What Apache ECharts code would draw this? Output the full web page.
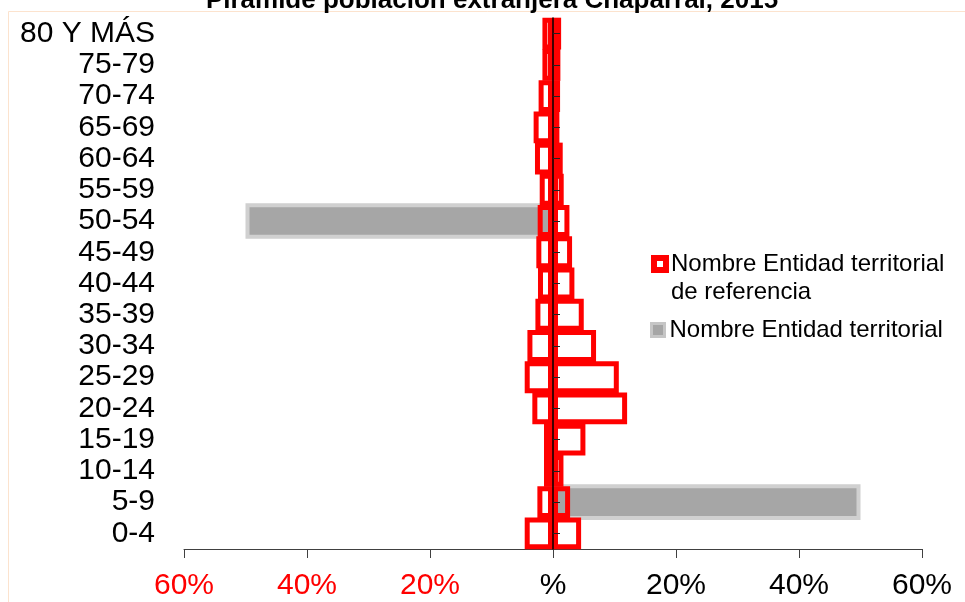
<!DOCTYPE html>
<html>
<head>
<meta charset="utf-8">
<script src="https://cdn.jsdelivr.net/npm/echarts@6/dist/echarts.min.js"></script>
<style>
html,body{margin:0;padding:0;background:#fff;}
#chart{width:965px;height:602px;}
</style>
</head>
<body>
<div id="chart"></div>
<script>
var titleText = 'Pirámide población extranjera Chaparral, 2015';
var categories = ['0-4','5-9','10-14','15-19','20-24','25-29','30-34','35-39','40-44','45-49','50-54','55-59','60-64','65-69','70-74','75-79','80 Y MÁS'];
var refName = 'Nombre Entidad territorial de referencia';
var entName = 'Nombre Entidad territorial';
// percentages (men negative, women positive)
var refMen   = [-4.6,-2.54,-1.46,-1.46,-3.36,-4.6,-4.16,-2.86,-2.44,-2.71,-2.49,-2.16,-2.93,-3.15,-2.34,-1.72,-1.72];
var refWomen = [4.57,2.78,1.7,5.27,12.05,10.7,7.0,5.0,3.48,3.1,2.67,1.74,1.58,1.04,1.15,1.2,1.32];
var entMen   = [0,0,0,0,0,0,0,0,0,0,-50,0,0,0,0,0,0];
var entWomen = [0,50,0,0,0,0,0,0,0,0,0,0,0,0,0,0,0];

function nz(a){ return a.map(function(v){ return v === 0 ? null : v; }); }

var FONT = 'Liberation Sans, Arial, sans-serif';
var chart = echarts.init(document.getElementById('chart'), null, {renderer:'canvas'});

var graySeries = function(data){
  return {
    name: entName, type: 'bar', data: nz(data), yAxisIndex: 0,
    barWidth: '114%', barGap: '-100%',
    itemStyle: {color: '#A6A6A6', borderColor: '#D0D0D0', borderWidth: 4},
    emphasis: {disabled: true}, z: 2
  };
};
var redSeries = function(data){
  return {
    name: refName, type: 'bar', data: data, yAxisIndex: 1,
    barWidth: '102%', barGap: '-100%',
    itemStyle: {color: 'rgba(255,255,255,0)', borderColor: '#FF0000', borderWidth: 5},
    emphasis: {disabled: true}, z: 3
  };
};

chart.setOption({
  backgroundColor: '#ffffff',
  animation: false,
  textStyle: {fontFamily: FONT},
  title: {
    text: titleText, left: 492, textAlign: 'center', top: -12, padding: 0,
    textStyle: {fontFamily: FONT, fontSize: 26, fontWeight: 'bold', color: '#000'}
  },
  graphic: [{
    type: 'rect', silent: true, z: -10,
    shape: {x: 8.5, y: 11.5, width: 1200, height: 1200},
    style: {fill: 'none', stroke: '#FCE3CE', lineWidth: 1}
  }],
  legend: [{
    orient: 'vertical', left: 651, top: 222, padding: 0,
    icon: 'rect', itemWidth: 12, itemHeight: 12,
    selectedMode: false,
    data: [{name: refName, itemStyle: {color: '#fff', borderColor: '#FF0000', borderWidth: 6}}],
    formatter: function(){ return '\nNombre Entidad territorial\nde referencia'; },
    textStyle: {fontFamily: FONT, fontSize: 24, color: '#000', lineHeight: 28}
  },{
    orient: 'vertical', left: 650, top: 316, padding: 0,
    icon: 'rect', itemWidth: 13, itemHeight: 13,
    selectedMode: false,
    data: [{name: entName, itemStyle: {color: '#A6A6A6', borderColor: '#C6C6C6', borderWidth: 3}}],
    textStyle: {fontFamily: FONT, fontSize: 24, color: '#000', lineHeight: 28}
  }],
  grid: {left: 184, right: 43, top: 18, bottom: 53, containLabel: false},
  xAxis: {
    type: 'value', min: -60, max: 60, interval: 20,
    splitLine: {show: false},
    axisLine: {show: true, onZero: false, lineStyle: {color: '#404040', width: 1}},
    axisTick: {show: true, length: 9, lineStyle: {color: '#404040'}},
    axisLabel: {
      fontFamily: FONT, fontSize: 30, margin: 22,
      color: function(v){ return Number(v) < 0 ? '#FF0000' : '#000000'; },
      formatter: function(v){ return v === 0 ? '%' : Math.abs(v) + '%'; }
    }
  },
  yAxis: [{
    type: 'category', data: categories, position: 'left',
    axisLine: {show: false, onZero: false},
    axisTick: {show: false},
    axisLabel: {fontFamily: FONT, fontSize: 30, color: '#000', margin: 29, interval: 0}
  },{
    type: 'category', data: categories, position: 'right',
    axisLine: {show: true, onZero: true, lineStyle: {color: '#000', width: 1.5}},
    axisTick: {show: true, alignWithLabel: true, length: 7, lineStyle: {color: '#222'}},
    axisLabel: {show: false},
    z: 10
  }],
  series: [
    graySeries(entMen), graySeries(entWomen),
    redSeries(refMen), redSeries(refWomen)
  ]
});
</script>
</body>
</html>
